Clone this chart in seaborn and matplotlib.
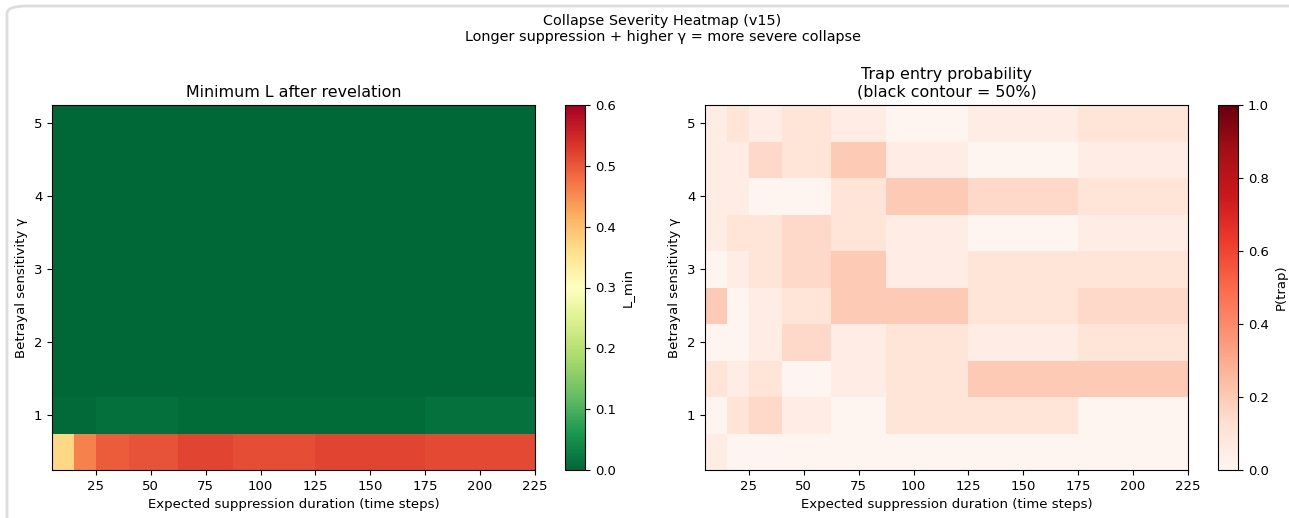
import numpy as np
import matplotlib
matplotlib.use("Agg")
import matplotlib.pyplot as plt
from matplotlib.patches import FancyBboxPatch
import seaborn as sns

sns.set_style("ticks", {"axes.edgecolor": "black", "xtick.color": "black",
                        "ytick.color": "black", "text.color": "black",
                        "axes.labelcolor": "black"})
plt.rcParams['font.family'] = ['DejaVu Sans']
plt.rcParams['font.size'] = 9.5
plt.rcParams['xtick.labelsize'] = 9.5
plt.rcParams['ytick.labelsize'] = 9.5
plt.rcParams['axes.labelsize'] = 9.5

# ---- data ----
durations = [10, 20, 30, 50, 75, 100, 150, 200]          # expected suppression duration
gammas = [0.5, 1.0, 1.5, 2.0, 2.5, 3.0, 3.5, 4.0, 4.5, 5.0]  # betrayal sensitivity

# Minimum L after revelation (rows = gammas ascending, cols = durations)
lmin_g05 = [0.37, 0.46, 0.495, 0.505, 0.52, 0.509, 0.52, 0.515]
lmin_g10 = [0.004, 0.004, 0.010, 0.010, 0.007, 0.007, 0.007, 0.012]
lmin_g15 = [0.0, 0.0, 0.0, 0.0, 0.0, 0.0, 0.0, 0.0]
lmin_g20 = [0.0, 0.0, 0.0, 0.0, 0.0, 0.0, 0.0, 0.0]
lmin_g25 = [0.0, 0.0, 0.0, 0.0, 0.0, 0.0, 0.0, 0.0]
lmin_g30 = [0.0, 0.0, 0.0, 0.0, 0.0, 0.0, 0.0, 0.0]
lmin_g35 = [0.0, 0.0, 0.0, 0.0, 0.0, 0.0, 0.0, 0.0]
lmin_g40 = [0.0, 0.0, 0.0, 0.0, 0.0, 0.0, 0.0, 0.0]
lmin_g45 = [0.0, 0.0, 0.0, 0.0, 0.0, 0.0, 0.0, 0.0]
lmin_g50 = [0.0, 0.0, 0.0, 0.0, 0.0, 0.0, 0.0, 0.0]

# Trap entry probability
ptrap_g05 = [0.05, 0.0, 0.0, 0.0, 0.0, 0.0, 0.0, 0.0]
ptrap_g10 = [0.0, 0.10, 0.15, 0.05, 0.0, 0.10, 0.10, 0.0]
ptrap_g15 = [0.10, 0.05, 0.10, 0.0, 0.05, 0.10, 0.20, 0.20]
ptrap_g20 = [0.0, 0.0, 0.05, 0.15, 0.05, 0.10, 0.05, 0.10]
ptrap_g25 = [0.20, 0.0, 0.05, 0.10, 0.20, 0.20, 0.10, 0.15]
ptrap_g30 = [0.0, 0.05, 0.10, 0.15, 0.20, 0.05, 0.10, 0.10]
ptrap_g35 = [0.05, 0.10, 0.10, 0.15, 0.10, 0.05, 0.0, 0.05]
ptrap_g40 = [0.05, 0.05, 0.0, 0.0, 0.10, 0.20, 0.15, 0.10]
ptrap_g45 = [0.05, 0.05, 0.15, 0.10, 0.20, 0.05, 0.0, 0.05]
ptrap_g50 = [0.05, 0.10, 0.05, 0.10, 0.05, 0.0, 0.05, 0.10]

lmin = np.array([lmin_g05, lmin_g10, lmin_g15, lmin_g20, lmin_g25,
                 lmin_g30, lmin_g35, lmin_g40, lmin_g45, lmin_g50])
ptrap = np.array([ptrap_g05, ptrap_g10, ptrap_g15, ptrap_g20, ptrap_g25,
                  ptrap_g30, ptrap_g35, ptrap_g40, ptrap_g45, ptrap_g50])

W, H = 1289, 518
fig = plt.figure(figsize=(W / 100, H / 100), dpi=100)

def fx(px):
    return px / W

def fy(py):
    return 1 - py / H

# screenshot-like frame
frame = FancyBboxPatch((fx(7), -0.05), 1.1, fy(6) + 0.05,
                       boxstyle="round,pad=0,rounding_size=0.015",
                       transform=fig.transFigure, facecolor="none",
                       edgecolor="#dddddd", linewidth=2, clip_on=False)
fig.patches.append(frame)

ax_l = fig.add_axes([fx(52), fy(470), fx(535) - fx(52), fy(105) - fy(470)])
cax_l = fig.add_axes([fx(565), fy(470), fx(585) - fx(565), fy(105) - fy(470)])
ax_r = fig.add_axes([fx(705), fy(470), fx(1188) - fx(705), fy(105) - fy(470)])
cax_r = fig.add_axes([fx(1218), fy(470), fx(1238) - fx(1218), fy(105) - fy(470)])

X, Y = np.meshgrid(durations, gammas)

m1 = ax_l.pcolormesh(X, Y, lmin, cmap="RdYlGn_r", vmin=0, vmax=0.6, shading="nearest")
cb1 = fig.colorbar(m1, cax=cax_l)
cb1.set_label("L_min")
ax_l.set_title("Minimum L after revelation", fontsize=11.4)
ax_l.set_xlabel("Expected suppression duration (time steps)")
ax_l.set_ylabel("Betrayal sensitivity γ")

m2 = ax_r.pcolormesh(X, Y, ptrap, cmap="Reds", vmin=0, vmax=1, shading="nearest")
if ptrap.max() >= 0.5 and ptrap.min() <= 0.5:
    ax_r.contour(X, Y, ptrap, levels=[0.5], colors="black", linewidths=2)
cb2 = fig.colorbar(m2, cax=cax_r)
cb2.set_label("P(trap)")
ax_r.set_title("Trap entry probability\n(black contour = 50%)", fontsize=11.4)
ax_r.set_xlabel("Expected suppression duration (time steps)")
ax_r.set_ylabel("Betrayal sensitivity γ")

for ax in (ax_l, ax_r):
    ax.set_xticks([25, 50, 75, 100, 125, 150, 175, 200, 225])
    ax.set_yticks([1, 2, 3, 4, 5])
    ax.set_xlim(5, 225)
    ax.set_ylim(0.25, 5.25)
    for s in ax.spines.values():
        s.set_visible(True)

fig.suptitle("Collapse Severity Heatmap (v15)\nLonger suppression + higher γ = more severe collapse",
             x=0.514, y=fy(14), fontsize=10.4, va="top")

fig.savefig("out.png", dpi=100)
